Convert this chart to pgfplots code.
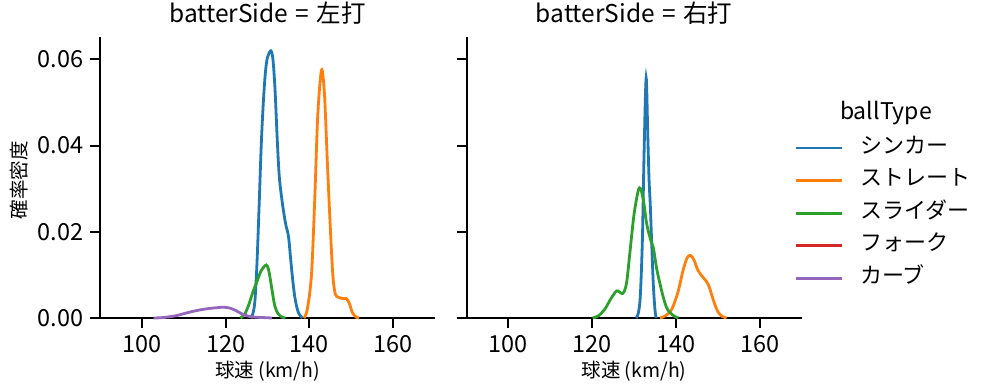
\documentclass[border=0pt]{standalone}
\usepackage{fontspec}
\setmainfont{Noto Sans CJK JP}
\usepackage{pgfplots}
\pgfplotsset{compat=1.18}
\definecolor{cA}{HTML}{1F77B4}
\definecolor{cB}{HTML}{FF7F0E}
\definecolor{cC}{HTML}{2CA02C}
\definecolor{cD}{HTML}{D62728}
\definecolor{cE}{HTML}{9467BD}
\pgfplotsset{
  panel/.style={
    scale only axis, width=335bp, height=281bp,
    xmin=90, xmax=170, ymin=0, ymax=0.0652,
    axis x line*=bottom, axis y line*=left,
    axis line style={line width=2bp,-},
    tick style={line width=2bp, black},
    major tick length=10bp, tick align=outside,
    xtick={100,120,140,160},
    ytick={0,0.02,0.04,0.06},
    scaled y ticks=false,
    yticklabel style={xshift=-3bp, /pgf/number format/fixed, /pgf/number format/fixed zerofill, /pgf/number format/precision=2},
    /pgf/number format/assume math mode=true,
    ticklabel style={font=\fontsize{23.5bp}{27bp}\selectfont},
    xticklabel style={yshift=-4bp},
    title style={at={(0.5,1)}, anchor=base, yshift=9bp, font=\fontsize{24.5bp}{28bp}\selectfont},
    xlabel style={at={(axis description cs:0.5,0)}, anchor=base, yshift=-59bp, font=\fontsize{19.5bp}{22bp}\selectfont},
    ylabel style={at={(axis description cs:-0.24,0.491)}, anchor=center, font=\fontsize{19.5bp}{22bp}\selectfont},
    every axis plot/.append style={line width=2.8bp, smooth, no marks},
    clip=false,
  }
}
\begin{document}
\begin{tikzpicture}
\useasboundingbox (0,0) rectangle (995bp,391bp);
\begin{axis}[panel, at={(100bp,73bp)}, anchor=south west,
  title={batterSide\hspace{0.3em}=\hspace{0.3em}左打}, xlabel={球速 (km/h)}, ylabel={確率密度}]
% シンカー
\addplot[cA] coordinates {(126,0) (126.5,0.001) (127,0.004) (127.5,0.013) (128,0.026) (128.5,0.040) (129,0.050) (129.5,0.057) (130,0.0605) (130.8,0.062) (131.3,0.060) (131.8,0.053) (132.3,0.042) (132.8,0.033) (133.5,0.027) (134.3,0.022) (135,0.019) (135.5,0.014) (136,0.009) (136.5,0.005) (137,0.0025) (137.5,0.001) (138.3,0)};
% ストレート
\addplot[cB] coordinates {(138.7,0) (139.5,0.002) (140.5,0.010) (141.3,0.028) (142,0.047) (142.9,0.0575) (143.6,0.052) (144.3,0.036) (145,0.021) (145.6,0.010) (146.2,0.0055) (147,0.0048) (148,0.0045) (148.8,0.0045) (149.5,0.0035) (150.3,0.0012) (151.2,0.0002) (151.9,0)};
% スライダー
\addplot[cC] coordinates {(123.5,0) (124.5,0.0008) (125.5,0.003) (126.5,0.006) (127.5,0.0085) (128.5,0.011) (129.7,0.0123) (130.3,0.011) (131,0.007) (131.7,0.003) (132.5,0.001) (133.5,0.0002) (134.3,0)};
% カーブ
\addplot[cE] coordinates {(102.8,0) (105,0.0001) (108,0.0005) (110,0.001) (112,0.0015) (114,0.0019) (116,0.0022) (118,0.0024) (119.5,0.0025) (121,0.0023) (122.5,0.0017) (124,0.0009) (125.5,0.0004) (127,0.0002) (129,0.0001) (131.1,0)};
\end{axis}
\begin{axis}[panel, at={(466.5bp,73bp)}, anchor=south west,
  title={batterSide\hspace{0.3em}=\hspace{0.3em}右打}, xlabel={球速 (km/h)}, yticklabels={},
  legend style={draw=none, fill=none, at={(0.978,0.634)}, anchor=north west,
    inner sep=0pt, row sep=16.6bp,
    nodes={inner sep=0pt, text height=13bp, text depth=3bp},
    font=\fontsize{22bp}{25bp}\selectfont},
  legend cell align=left,
  legend image code/.code={\draw[#1, line width=2.8bp] (0bp,0bp) -- (46bp,0bp);},
  /tikz/every odd column/.append style={column sep=17bp},
  ]
\addlegendimage{cA}
\addlegendimage{cB}
\addlegendimage{cC}
\addlegendimage{cD}
\addlegendimage{cE}
\legend{シンカー, ストレート, スライダー, フォーク, カーブ}
% シンカー
\addplot[cA, forget plot] coordinates {(130.5,0) (131,0.001) (131.5,0.005) (132,0.018) (132.4,0.038) (132.9,0.0557) (133.3,0.042) (133.6,0.032) (133.9,0.026) (134.2,0.018) (134.6,0.008) (135,0.002) (135.3,0)};
% ストレート
\addplot[cB, forget plot] coordinates {(136.2,0) (137.5,0.0005) (139,0.002) (140.5,0.006) (141.7,0.011) (142.7,0.014) (143.5,0.0145) (144.3,0.0135) (145.3,0.011) (146.5,0.0094) (147.3,0.0085) (148,0.0071) (149,0.004) (150,0.0015) (151,0.0004) (152.1,0)};
% スライダー
\addplot[cC, forget plot] coordinates {(120.1,0) (121.5,0.0005) (123,0.002) (124.5,0.0045) (125.9,0.0063) (127.3,0.0057) (128.2,0.008) (129,0.015) (130,0.024) (131,0.0295) (131.6,0.030) (132.3,0.027) (133,0.022) (134,0.018) (134.6,0.0164) (135.5,0.011) (137,0.0048) (138,0.002) (139.5,0.0005) (140.6,0)};
\end{axis}
\node[font=\fontsize{23bp}{26bp}\selectfont, anchor=center] at (886bp,278bp) {ballType};
\end{tikzpicture}
\end{document}
